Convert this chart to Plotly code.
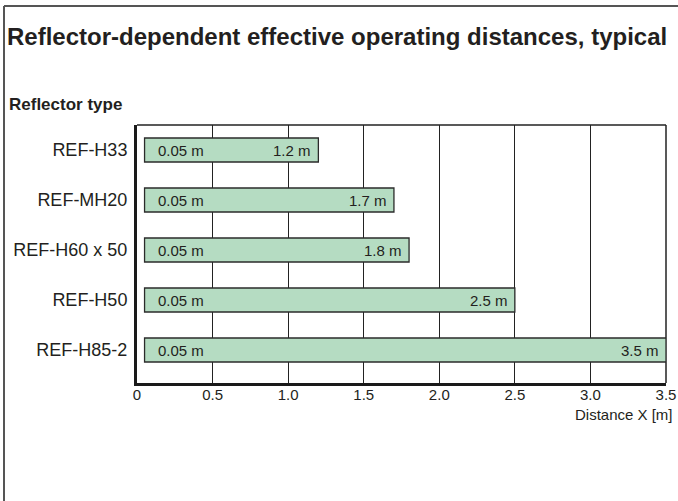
import plotly.graph_objects as go

reflectors = ["REF-H33", "REF-MH20", "REF-H60 x 50", "REF-H50", "REF-H85-2"]
range_start = [0.05, 0.05, 0.05, 0.05, 0.05]
range_end = [1.2, 1.7, 1.8, 2.5, 3.5]
x_ticks = [0, 0.5, 1.0, 1.5, 2.0, 2.5, 3.0, 3.5]
x_tick_labels = ["0", "0.5", "1.0", "1.5", "2.0", "2.5", "3.0", "3.5"]

W, H = 678, 501
ML, MR, MT, MB = 137, 12, 125, 118
PW, PH = W - ML - MR, H - MT - MB

def px_x(px):
    return (px - ML) / PW

def px_y(py):
    return (H - MB - py) / PH

FONT = "Liberation Sans, Arial, Helvetica, sans-serif"
TXT = "#231f20"

fig = go.Figure()
fig.add_trace(go.Bar(
    y=reflectors,
    x=[e - s for s, e in zip(range_start, range_end)],
    base=range_start,
    orientation="h",
    width=0.48,
    marker=dict(color="#b5dcc2", line=dict(color="#2b2b2b", width=1.3)),
    hoverinfo="skip",
))

annotations = []
for r, s, e in zip(reflectors, range_start, range_end):
    annotations.append(dict(
        x=s, y=r, xref="x", yref="y", text=f"{s} m", showarrow=False,
        xanchor="left", yanchor="middle", xshift=11,
        font=dict(family=FONT, size=15, color=TXT),
    ))
    annotations.append(dict(
        x=e, y=r, xref="x", yref="y", text=f"{e} m", showarrow=False,
        xanchor="right", yanchor="middle", xshift=-5,
        font=dict(family=FONT, size=15, color=TXT),
    ))

annotations.append(dict(
    x=px_x(7), y=px_y(104), xref="paper", yref="paper", text="<b>Reflector type</b>",
    showarrow=False, xanchor="left", yanchor="middle",
    font=dict(family=FONT, size=17, color=TXT),
))
annotations.append(dict(
    x=px_x(675), y=px_y(414), xref="paper", yref="paper", text="Distance X [m]",
    showarrow=False, xanchor="right", yanchor="middle",
    font=dict(family=FONT, size=15, color=TXT),
))

shapes = [
    # outer frame (top and left)
    dict(type="line", xref="paper", yref="paper", x0=px_x(4), x1=px_x(W + 5), y0=px_y(6), y1=px_y(6),
         line=dict(color="#555555", width=2)),
    dict(type="line", xref="paper", yref="paper", x0=px_x(4), x1=px_x(4), y0=px_y(6), y1=px_y(H + 5),
         line=dict(color="#555555", width=2)),
    # plot frame top and right
    dict(type="line", xref="paper", yref="paper", x0=0, x1=1, y0=1, y1=1,
         line=dict(color="#222222", width=1.5), layer="below"),
    dict(type="line", xref="paper", yref="paper", x0=1, x1=1, y0=0, y1=1,
         line=dict(color="#222222", width=1.5), layer="below"),
]

fig.update_layout(
    width=W, height=H,
    margin=dict(l=ML, r=MR, t=MT, b=MB, autoexpand=False),
    paper_bgcolor="white", plot_bgcolor="white",
    showlegend=False,
    title=dict(
        text="<b>Reflector-dependent effective operating distances, typical</b>",
        xref="container", yref="container", x=7 / W, y=1 - 37 / H,
        xanchor="left", yanchor="middle",
        font=dict(family=FONT, size=24, color=TXT),
    ),
    xaxis=dict(
        range=[0, 3.5], tickvals=x_ticks, ticktext=x_tick_labels,
        showgrid=True, gridcolor="#222222", gridwidth=1.2,
        zeroline=False, showline=True, linecolor="#1a1a1a", linewidth=3,
        ticks="", ticklabelstandoff=-4,
        tickfont=dict(family=FONT, size=15, color=TXT),
        fixedrange=True,
    ),
    yaxis=dict(
        type="category", categoryorder="array", categoryarray=reflectors,
        range=[4.66, -0.5],
        showgrid=False, zeroline=False, showline=True, linecolor="#1a1a1a", linewidth=3,
        ticks="", ticklabelstandoff=3,
        tickfont=dict(family=FONT, size=18, color=TXT),
        fixedrange=True,
    ),
    annotations=annotations,
    shapes=shapes,
)

fig.write_html(
    "out.html",
    config={"displayModeBar": False},
    post_script="document.body.style.margin='0px';document.body.style.overflow='hidden';",
)
